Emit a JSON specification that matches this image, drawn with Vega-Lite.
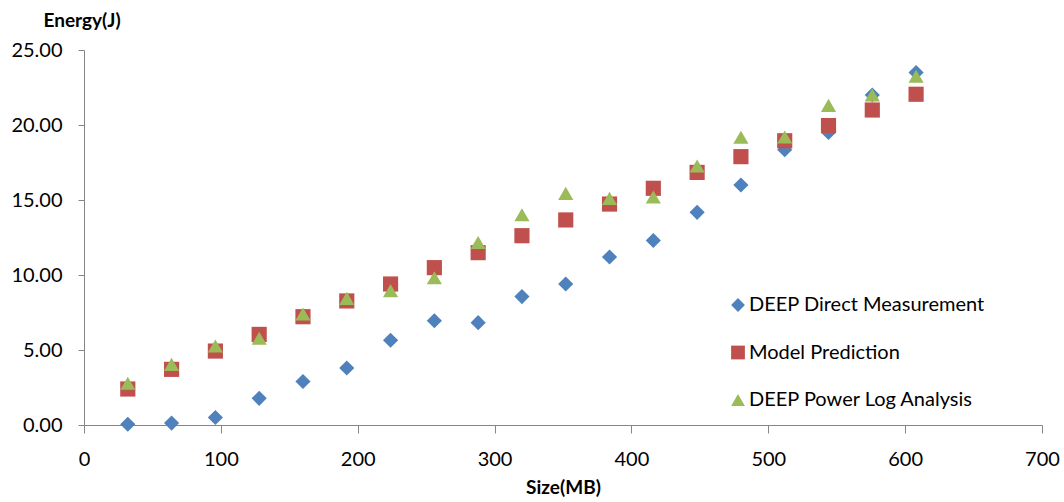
{
  "$schema": "https://vega.github.io/schema/vega-lite/v6.json",
  "width": 958,
  "height": 375,
  "autosize": {"type": "none"},
  "padding": {"left": 84, "top": 50, "right": 22, "bottom": 77},
  "background": "white",
  "config": {
    "view": {"stroke": null},
    "font": "Lato",
    "axis": {"grid": false, "labelFlush": false, "domainColor": "#868686", "tickColor": "#868686", "labelColor": "#000000", "labelFont": "Lato", "labelFontSize": 20, "titleFont": "Lato", "titleFontSize": 19, "titleFontWeight": "bold", "titleColor": "#000000"}
  },
  "data": {
    "values": [
      {"size": 32, "energy": 0.05, "series": "DEEP Direct Measurement"},
      {"size": 64, "energy": 0.13, "series": "DEEP Direct Measurement"},
      {"size": 96, "energy": 0.5, "series": "DEEP Direct Measurement"},
      {"size": 128, "energy": 1.78, "series": "DEEP Direct Measurement"},
      {"size": 160, "energy": 2.9, "series": "DEEP Direct Measurement"},
      {"size": 192, "energy": 3.8, "series": "DEEP Direct Measurement"},
      {"size": 224, "energy": 5.65, "series": "DEEP Direct Measurement"},
      {"size": 256, "energy": 6.95, "series": "DEEP Direct Measurement"},
      {"size": 288, "energy": 6.82, "series": "DEEP Direct Measurement"},
      {"size": 320, "energy": 8.56, "series": "DEEP Direct Measurement"},
      {"size": 352, "energy": 9.4, "series": "DEEP Direct Measurement"},
      {"size": 384, "energy": 11.2, "series": "DEEP Direct Measurement"},
      {"size": 416, "energy": 12.3, "series": "DEEP Direct Measurement"},
      {"size": 448, "energy": 14.18, "series": "DEEP Direct Measurement"},
      {"size": 480, "energy": 16.0, "series": "DEEP Direct Measurement"},
      {"size": 512, "energy": 18.35, "series": "DEEP Direct Measurement"},
      {"size": 544, "energy": 19.5, "series": "DEEP Direct Measurement"},
      {"size": 576, "energy": 22.0, "series": "DEEP Direct Measurement"},
      {"size": 608, "energy": 23.5, "series": "DEEP Direct Measurement"},
      {"size": 32, "energy": 2.4, "series": "Model Prediction"},
      {"size": 64, "energy": 3.71, "series": "Model Prediction"},
      {"size": 96, "energy": 4.93, "series": "Model Prediction"},
      {"size": 128, "energy": 6.04, "series": "Model Prediction"},
      {"size": 160, "energy": 7.22, "series": "Model Prediction"},
      {"size": 192, "energy": 8.27, "series": "Model Prediction"},
      {"size": 224, "energy": 9.4, "series": "Model Prediction"},
      {"size": 256, "energy": 10.49, "series": "Model Prediction"},
      {"size": 288, "energy": 11.49, "series": "Model Prediction"},
      {"size": 320, "energy": 12.62, "series": "Model Prediction"},
      {"size": 352, "energy": 13.67, "series": "Model Prediction"},
      {"size": 384, "energy": 14.73, "series": "Model Prediction"},
      {"size": 416, "energy": 15.78, "series": "Model Prediction"},
      {"size": 448, "energy": 16.84, "series": "Model Prediction"},
      {"size": 480, "energy": 17.89, "series": "Model Prediction"},
      {"size": 512, "energy": 18.95, "series": "Model Prediction"},
      {"size": 544, "energy": 19.96, "series": "Model Prediction"},
      {"size": 576, "energy": 21.0, "series": "Model Prediction"},
      {"size": 608, "energy": 22.05, "series": "Model Prediction"},
      {"size": 32, "energy": 2.78, "series": "DEEP Power Log Analysis"},
      {"size": 64, "energy": 4.04, "series": "DEEP Power Log Analysis"},
      {"size": 96, "energy": 5.27, "series": "DEEP Power Log Analysis"},
      {"size": 128, "energy": 5.78, "series": "DEEP Power Log Analysis"},
      {"size": 160, "energy": 7.4, "series": "DEEP Power Log Analysis"},
      {"size": 192, "energy": 8.44, "series": "DEEP Power Log Analysis"},
      {"size": 224, "energy": 8.96, "series": "DEEP Power Log Analysis"},
      {"size": 256, "energy": 9.82, "series": "DEEP Power Log Analysis"},
      {"size": 288, "energy": 12.17, "series": "DEEP Power Log Analysis"},
      {"size": 320, "energy": 14.02, "series": "DEEP Power Log Analysis"},
      {"size": 352, "energy": 15.44, "series": "DEEP Power Log Analysis"},
      {"size": 384, "energy": 15.11, "series": "DEEP Power Log Analysis"},
      {"size": 416, "energy": 15.2, "series": "DEEP Power Log Analysis"},
      {"size": 448, "energy": 17.27, "series": "DEEP Power Log Analysis"},
      {"size": 480, "energy": 19.18, "series": "DEEP Power Log Analysis"},
      {"size": 512, "energy": 19.2, "series": "DEEP Power Log Analysis"},
      {"size": 544, "energy": 21.31, "series": "DEEP Power Log Analysis"},
      {"size": 576, "energy": 22.0, "series": "DEEP Power Log Analysis"},
      {"size": 608, "energy": 23.25, "series": "DEEP Power Log Analysis"}
    ]
  },
  "mark": {"type": "point", "filled": true, "opacity": 1, "size": 230},
  "encoding": {
    "x": {
      "field": "size", "type": "quantitative",
      "scale": {"domain": [0, 700], "nice": false, "zero": true},
      "axis": {"values": [0, 100, 200, 300, 400, 500, 600, 700], "format": "d", "tickSize": 8, "labelPadding": 16, "title": "Size(MB)", "titleX": 479, "titleY": 62, "titleBaseline": "middle", "titleAlign": "center"}
    },
    "y": {
      "field": "energy", "type": "quantitative",
      "scale": {"domain": [0, 25], "nice": false},
      "axis": {"values": [0, 5, 10, 15, 20, 25], "format": ".2f", "tickSize": 6, "labelPadding": 16, "title": "Energy(J)", "titleAngle": 0, "titleAlign": "left", "titleBaseline": "middle", "titleX": -41, "titleY": -30}
    },
    "color": {
      "field": "series", "type": "nominal",
      "scale": {"domain": ["DEEP Direct Measurement", "Model Prediction", "DEEP Power Log Analysis"], "range": ["#4F81BD", "#C0504D", "#9BBB59"]},
      "legend": {"title": null, "orient": "none", "legendX": 644, "legendY": 245, "labelFont": "Lato", "labelFontSize": 20, "labelColor": "#000000", "labelLimit": 0, "rowPadding": 27.5, "symbolSize": 190, "labelOffset": 1}
    },
    "shape": {
      "field": "series", "type": "nominal",
      "scale": {"domain": ["DEEP Direct Measurement", "Model Prediction", "DEEP Power Log Analysis"], "range": ["diamond", "square", "triangle-up"]}
    }
  }
}
